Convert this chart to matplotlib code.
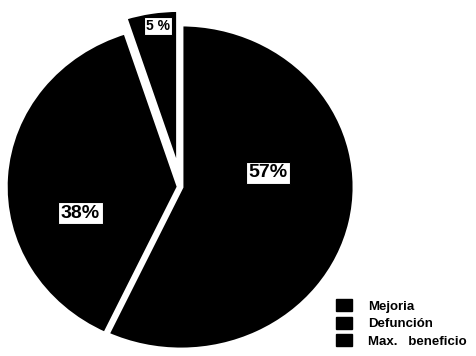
import matplotlib.pyplot as plt
from matplotlib.patches import Patch

categorias = ["Mejoria", "Defunción", "Max.   beneficio"]
porcentajes = [57, 38, 5]
etiquetas = ["57%", "38%", "5 %"]

# posiciones de etiquetas (coordenadas del pastel, radio 1)
pos_etiquetas = [(0.50, 0.086), (-0.58, -0.16), (-0.132, 0.988)]
tam_etiquetas = [14, 14, 10]

fig = plt.figure(figsize=(4.77, 3.56), dpi=100)
ax = fig.add_axes([0, 0, 1, 1])

wedges, _ = ax.pie(porcentajes,
                   startangle=90,
                   counterclock=False,
                   colors=["black"] * 3,
                   explode=[0, 0.01, 0.09],
                   wedgeprops=dict(edgecolor="white", linewidth=3.5))

for texto, (x, y), tam in zip(etiquetas, pos_etiquetas, tam_etiquetas):
    ax.text(x, y, texto, ha="center", va="center",
            fontsize=tam, fontweight="bold", family="Liberation Sans",
            bbox=dict(boxstyle="square,pad=0.15", facecolor="white",
                      edgecolor="black", linewidth=0.8))

# centro del pastel en (181, 187) px, radios 174 x 163 px
ax.set_aspect("auto")
ax.set_xlim(-181 / 174, 296 / 174)
ax.set_ylim(-169 / 163, 187 / 163)
ax.axis("off")

handles = [Patch(facecolor="black", edgecolor="black") for _ in categorias]
leg = ax.legend(handles, categorias,
                loc="upper left",
                bbox_to_anchor=(336 / 477, 1 - 299 / 356),
                bbox_transform=fig.transFigure,
                frameon=False,
                borderpad=0,
                borderaxespad=0,
                handlelength=1.2,
                handleheight=1.05,
                handletextpad=1.2,
                labelspacing=0.3,
                prop=dict(family="Liberation Sans", weight="bold", size=9.5))

fig.savefig("out.png", dpi=100)
